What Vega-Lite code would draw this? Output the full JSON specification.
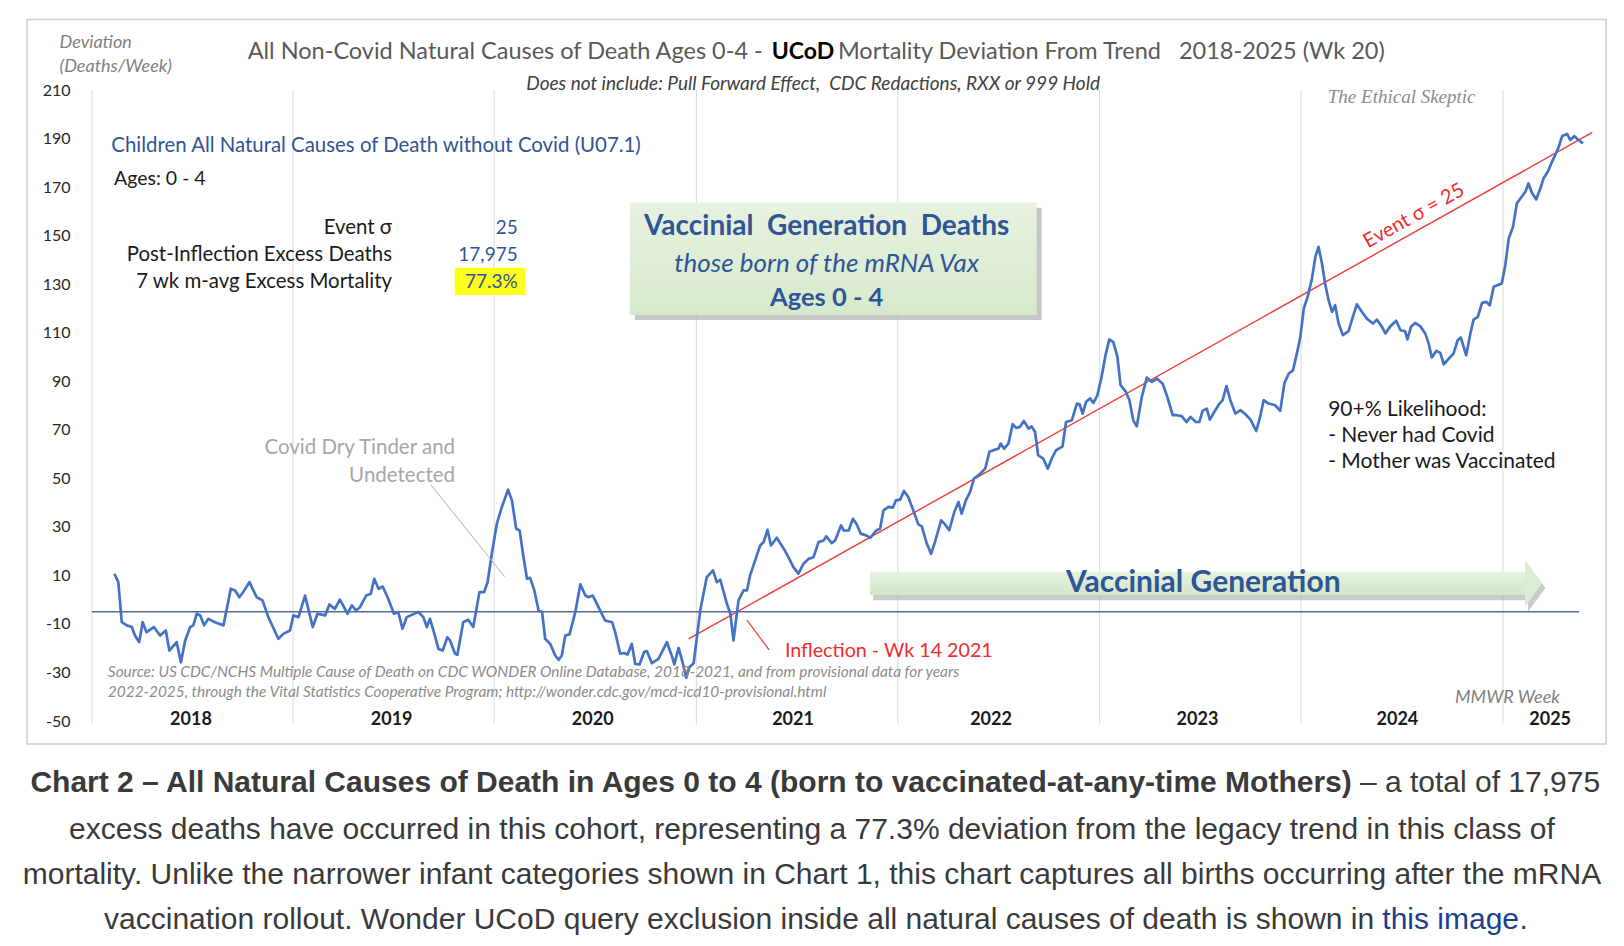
{
  "$schema": "https://vega.github.io/schema/vega-lite/v6.json",
  "description": "All Non-Covid Natural Causes of Death Ages 0-4, UCoD mortality deviation from trend 2018-2025 (Wk 20)",
  "width": 1508,
  "height": 631,
  "autosize": "none",
  "padding": {"left": 92, "top": 90, "right": 24, "bottom": 225},
  "background": "white",
  "config": {"view": {"stroke": null}},
  "datasets": {
    "series": [
      {"w":5.8,"v":10.7},{"w":6.8,"v":7.2},{"w":7.7,"v":-9.3},{"w":9,"v":-10.6},{"w":10.3,"v":-11.3},{"w":11.1,"v":-14.8},{"w":12.2,"v":-17.5},{"w":13.1,"v":-9.3},{"w":14.1,"v":-13.4},{"w":16,"v":-11.3},
      {"w":17.6,"v":-14.8},{"w":19.1,"v":-12.7},{"w":20,"v":-21},{"w":21.9,"v":-17.5},{"w":23,"v":-25.8},{"w":24.1,"v":-16.8},{"w":25.4,"v":-11.3},{"w":26.2,"v":-10.6},{"w":27.1,"v":-5.8},{"w":28,"v":-6.5},
      {"w":29,"v":-10.6},{"w":30.1,"v":-7.9},{"w":31.8,"v":-9.3},{"w":34,"v":-10.6},{"w":35.9,"v":4.5},{"w":37,"v":3.8},{"w":38.1,"v":1},{"w":39.1,"v":3.1},{"w":40.7,"v":7.2},{"w":42.6,"v":1},
      {"w":44.1,"v":-0.3},{"w":45.6,"v":-7.2},{"w":48.2,"v":-16.1},{"w":49.5,"v":-14.1},{"w":51.2,"v":-12.7},{"w":52.1,"v":-6.5},{"w":53.4,"v":-7.2},{"w":55.1,"v":1.7},{"w":57.1,"v":-11.3},{"w":58.3,"v":-5.8},
      {"w":60.3,"v":-6.5},{"w":61.4,"v":-2},{"w":62.8,"v":-3.8},{"w":64.1,"v":0},{"w":66.1,"v":-5.8},{"w":67.2,"v":-2.4},{"w":68.3,"v":-4.5},{"w":69.3,"v":-3.1},{"w":70.9,"v":1.7},{"w":72.1,"v":2.4},
      {"w":73,"v":8.6},{"w":74.1,"v":4.5},{"w":75.2,"v":5.4},{"w":76.6,"v":0.4},{"w":78.1,"v":-5.8},{"w":79.2,"v":-5.1},{"w":80.3,"v":-12},{"w":81.4,"v":-7.2},{"w":84.4,"v":-5.1},{"w":85.7,"v":-7.2},
      {"w":86.6,"v":-11.3},{"w":87.4,"v":-7.9},{"w":88.3,"v":-12.7},{"w":89.6,"v":-20.3},{"w":90.7,"v":-21},{"w":91.9,"v":-15.5},{"w":92.6,"v":-16.8},{"w":93.9,"v":-22.3},{"w":94.5,"v":-22.7},{"w":96,"v":-9.3},
      {"w":97.3,"v":-8.3},{"w":98.6,"v":-11.3},{"w":100.2,"v":3.1},{"w":101.4,"v":3.1},{"w":102.3,"v":7.2},{"w":103.4,"v":18.9},{"w":104.7,"v":31.3},{"w":106,"v":38.2},{"w":107.6,"v":45.3},{"w":108.6,"v":40.9},
      {"w":109.7,"v":29.2},{"w":110.6,"v":28.5},{"w":111.6,"v":17.5},{"w":112.5,"v":8.6},{"w":113.3,"v":9},{"w":114.4,"v":3.8},{"w":115.5,"v":-4.5},{"w":116.4,"v":-5.1},{"w":117.2,"v":-16.1},{"w":118.5,"v":-18.2},
      {"w":119.8,"v":-23},{"w":120.7,"v":-24.8},{"w":121.5,"v":-23},{"w":122.4,"v":-14.8},{"w":123.5,"v":-14.3},{"w":125,"v":-5.1},{"w":126.3,"v":6.3},{"w":127.6,"v":1.7},{"w":128.4,"v":1},{"w":129.5,"v":1.7},
      {"w":131,"v":-3.1},{"w":132.7,"v":-8.6},{"w":134.5,"v":-9.3},{"w":135.3,"v":-13.4},{"w":136.6,"v":-22.3},{"w":137.6,"v":-22},{"w":138.5,"v":-22.6},{"w":139.6,"v":-18.2},{"w":140.5,"v":-26.5},{"w":141.6,"v":-26.7},
      {"w":142.8,"v":-21.6},{"w":143.5,"v":-21.2},{"w":144.8,"v":-26.2},{"w":146.5,"v":-24.4},{"w":148.7,"v":-17.5},{"w":150,"v":-23.4},{"w":150.6,"v":-26.7},{"w":151.7,"v":-19.9},{"w":152.6,"v":-25},{"w":153.7,"v":-32.2},
      {"w":154.5,"v":-27.8},{"w":155.6,"v":-26.2},{"w":157.3,"v":-4.5},{"w":159,"v":9.3},{"w":160.6,"v":12},{"w":161.6,"v":7.2},{"w":162.5,"v":8.2},{"w":164.2,"v":-1.7},{"w":165.1,"v":-5.8},{"w":165.9,"v":-16.8},
      {"w":167.2,"v":-0.3},{"w":168.5,"v":3.8},{"w":169.4,"v":3.8},{"w":170.2,"v":10},{"w":171.5,"v":16.2},{"w":172.8,"v":22.3},{"w":173.7,"v":23.7},{"w":174.7,"v":28.8},{"w":175.6,"v":22.3},{"w":177.1,"v":25.5},
      {"w":178.9,"v":21},{"w":180.1,"v":17.5},{"w":181.4,"v":13.4},{"w":182.7,"v":10.7},{"w":184,"v":14.8},{"w":185.3,"v":16.8},{"w":186.6,"v":17.5},{"w":187.9,"v":23.7},{"w":189.2,"v":24.4},{"w":189.9,"v":26.1},
      {"w":191.3,"v":23.3},{"w":192.2,"v":24.4},{"w":193.7,"v":30.6},{"w":194.4,"v":28.5},{"w":195.7,"v":28.5},{"w":196.8,"v":33.3},{"w":197.8,"v":31},{"w":198.8,"v":27.2},{"w":200.2,"v":26.5},{"w":201.3,"v":25.5},
      {"w":202.8,"v":28.5},{"w":203.8,"v":29.2},{"w":204.7,"v":36.8},{"w":206,"v":38.2},{"w":207.1,"v":37.9},{"w":207.9,"v":40.9},{"w":209,"v":41.2},{"w":210,"v":44.8},{"w":211.1,"v":42.3},{"w":212.4,"v":36.8},
      {"w":213.7,"v":31},{"w":214.6,"v":30.2},{"w":215.9,"v":23.1},{"w":217,"v":18.9},{"w":218,"v":23.7},{"w":219.6,"v":32.7},{"w":220.6,"v":31},{"w":221.7,"v":28.6},{"w":223,"v":36.1},{"w":224.1,"v":40.2},
      {"w":224.9,"v":35.4},{"w":226,"v":40.9},{"w":227.1,"v":44.4},{"w":228.1,"v":49.9},{"w":229.7,"v":51.9},{"w":231,"v":54},{"w":232.1,"v":60.9},{"w":233.5,"v":61.8},{"w":234.4,"v":62.2},{"w":235,"v":64.3},
      {"w":235.9,"v":62.2},{"w":237,"v":64.3},{"w":238.1,"v":72.3},{"w":239,"v":70.8},{"w":240,"v":71.2},{"w":241,"v":73.6},{"w":242.2,"v":70.5},{"w":243,"v":71.4},{"w":243.9,"v":69.1},{"w":244.7,"v":59.5},
      {"w":246,"v":58.1},{"w":247.2,"v":54},{"w":248.2,"v":58.1},{"w":249.3,"v":61.5},{"w":251,"v":63.2},{"w":251.9,"v":73.2},{"w":253.4,"v":73.9},{"w":254.7,"v":80.8},{"w":255.4,"v":80.5},{"w":256.2,"v":76.7},
      {"w":257.1,"v":81.5},{"w":258.1,"v":82.9},{"w":259,"v":81.1},{"w":260,"v":84.2},{"w":261.1,"v":91.8},{"w":262.2,"v":101.4},{"w":263.1,"v":107.2},{"w":264.1,"v":106.2},{"w":265.2,"v":100},{"w":266,"v":88.4},
      {"w":267.4,"v":85.6},{"w":268.3,"v":82.2},{"w":269.3,"v":73.9},{"w":270.2,"v":71.4},{"w":271.5,"v":83.5},{"w":272.8,"v":91.5},{"w":274.1,"v":89.7},{"w":275.4,"v":91.1},{"w":276.9,"v":89},{"w":278.1,"v":83.5},
      {"w":279.5,"v":76},{"w":280.5,"v":76},{"w":281.8,"v":75.6},{"w":283.1,"v":73.2},{"w":284.1,"v":75.3},{"w":285.5,"v":73.2},{"w":286.4,"v":73.2},{"w":287.2,"v":77.8},{"w":288.3,"v":78.7},{"w":289.1,"v":74.2},
      {"w":290,"v":76.7},{"w":291.6,"v":80.8},{"w":292.4,"v":82.2},{"w":293.4,"v":88},{"w":294.4,"v":82.2},{"w":295.7,"v":76.7},{"w":297,"v":78.1},{"w":298.3,"v":76.4},{"w":299.6,"v":74.2},{"w":301.1,"v":69.5},
      {"w":302.1,"v":75.3},{"w":303,"v":82.2},{"w":304.3,"v":80.8},{"w":306,"v":80.1},{"w":307.3,"v":77.8},{"w":308.4,"v":89.3},{"w":309.5,"v":93.2},{"w":310.6,"v":94.5},{"w":311.8,"v":102.8},{"w":312.5,"v":108.3},
      {"w":313.4,"v":120},{"w":314.4,"v":124.8},{"w":315.5,"v":132.3},{"w":316.4,"v":141.3},{"w":317.2,"v":145.4},{"w":318.1,"v":138.5},{"w":318.9,"v":130.3},{"w":319.8,"v":123.4},{"w":320.7,"v":118.6},{"w":321.5,"v":121.3},
      {"w":322.4,"v":113.8},{"w":323.5,"v":109},{"w":325,"v":110.7},{"w":325.8,"v":115.1},{"w":327.1,"v":121.7},{"w":328.4,"v":118.6},{"w":329.7,"v":115.8},{"w":331.3,"v":113.8},{"w":332.3,"v":115.4},{"w":333.6,"v":112.4},
      {"w":334.5,"v":109.7},{"w":335.8,"v":112.7},{"w":337.3,"v":114.9},{"w":338.4,"v":111},{"w":339.6,"v":110.6},{"w":340.2,"v":107.2},{"w":341.1,"v":112.4},{"w":342.2,"v":114},{"w":343.5,"v":112.7},{"w":344.8,"v":109.7},
      {"w":345.7,"v":105.5},{"w":346.5,"v":99.8},{"w":347.7,"v":102.5},{"w":348.7,"v":101.7},{"w":349.6,"v":97},{"w":350.9,"v":99.3},{"w":352.1,"v":101.4},{"w":353.2,"v":106.9},{"w":354,"v":108},{"w":355.4,"v":100.7},
      {"w":356.5,"v":109.9},{"w":357.3,"v":115.4},{"w":358.4,"v":116.5},{"w":359.5,"v":122.3},{"w":360.6,"v":122.7},{"w":361.5,"v":121.3},{"w":362.5,"v":128.9},{"w":363.5,"v":129.6},{"w":364.6,"v":130.3},{"w":365.5,"v":137.8},
      {"w":366.4,"v":148.8},{"w":367.5,"v":153.6},{"w":368.5,"v":163.3},{"w":369.6,"v":165.7},{"w":370.7,"v":168.1},{"w":371.5,"v":171.5},{"w":372.4,"v":167.7},{"w":373.5,"v":164.9},{"w":374.6,"v":169.5},{"w":375.4,"v":173.6},
      {"w":376.5,"v":176.3},{"w":377.6,"v":180.4},{"w":378.4,"v":183.2},{"w":379.3,"v":186.4},{"w":380.2,"v":191},{"w":381.5,"v":191.9},{"w":382.3,"v":189.4},{"w":383.4,"v":191},{"w":384.2,"v":189.7},{"w":385.6,"v":188}
    ],
    "trend": [{"w": 154.3, "v": -16.2}, {"w": 388, "v": 192.5}],
    "baseline": [{"w": 0, "w2": 384.6, "v": -5}],
    "yearStarts": [
      {"year": 2018, "w": 0, "v": 210, "v2": -51}, {"year": 2019, "w": 52, "v": 210, "v2": -51}, {"year": 2020, "w": 104, "v": 210, "v2": -51}, {"year": 2021, "w": 156.3, "v": 210, "v2": -51},
      {"year": 2022, "w": 208.4, "v": 210, "v2": -51}, {"year": 2023, "w": 260.6, "v": 210, "v2": -51}, {"year": 2024, "w": 312.7, "v": 210, "v2": -51}, {"year": 2025, "w": 364.9, "v": 210, "v2": -51}
    ],
    "yearLabels": [
      {"label": "2018", "w": 25.6, "v": -49.6}, {"label": "2019", "w": 77.5, "v": -49.6}, {"label": "2020", "w": 129.5, "v": -49.6}, {"label": "2021", "w": 181.3, "v": -49.6},
      {"label": "2022", "w": 232.5, "v": -49.6}, {"label": "2023", "w": 285.9, "v": -49.6}, {"label": "2024", "w": 337.6, "v": -49.6}, {"label": "2025", "w": 377.1, "v": -49.6}
    ],
    "frame": [{"w": -16.8, "w2": 391.6, "v": 239.1, "v2": -59.5}],
    "boxShadow": [{"w": 140.4, "w2": 245.6, "v": 161.5, "v2": 115.2}],
    "box": [{"w": 139.1, "w2": 244.3, "v": 163.6, "v2": 117.3}],
    "highlight": [{"w": 93.8, "w2": 112.1, "v": 136.8, "v2": 125.5}],
    "arrowShadowBody": [{"w": 202.0, "w2": 371.4, "v": 9.4, "v2": -0.2}],
    "arrowShadowHead": [{"w": 371.4, "v": 14.2, "v2": -5.0}, {"w": 375.9, "v": 4.8, "v2": 4.8}],
    "arrowBody": [{"w": 201.2, "w2": 370.6, "v": 11.5, "v2": 1.9}],
    "arrowHead": [{"w": 370.6, "v": 16.3, "v2": -2.9}, {"w": 375.1, "v": 6.9, "v2": 6.9}],
    "leaders": [
      {"kind": "tinder", "w": 87.7, "v": 47.2, "w2": 106.7, "v2": 9.5},
      {"kind": "inflection", "w": 169.4, "v": -8.4, "w2": 175.1, "v2": -20.7}
    ]
  },
  "encoding": {
    "x": {"field": "w", "type": "quantitative", "scale": {"domain": [0, 390], "nice": false, "zero": false}, "axis": null},
    "y": {
      "field": "v", "type": "quantitative",
      "scale": {"domain": [-50, 210], "nice": false, "zero": false},
      "axis": {
        "title": null, "values": [-50, -30, -10, 10, 30, 50, 70, 90, 110, 130, 150, 170, 190, 210],
        "labelExpr": "'' + datum.value",
        "domain": false, "ticks": false, "grid": false, "labelPadding": 22,
        "labelFont": "Lato", "labelFontSize": 16, "labelColor": "#262626"
      }
    }
  },
  "layer": [
    {"data": {"name": "frame"}, "mark": {"type": "rect", "fillOpacity": 0, "stroke": "#cfcfcf", "strokeWidth": 1.5}, "encoding": {"x2": {"field": "w2"}, "y2": {"field": "v2"}}},
    {"data": {"name": "yearStarts"}, "mark": {"type": "rule", "color": "#dadada", "strokeWidth": 1}, "encoding": {"y2": {"field": "v2"}}},
    {"data": {"name": "boxShadow"}, "mark": {"type": "rect", "color": "#b4b4b4", "opacity": 0.75}, "encoding": {"x2": {"field": "w2"}, "y2": {"field": "v2"}}},
    {"data": {"name": "box"}, "mark": {"type": "rect", "fill": {"gradient": "linear", "x1": 0, "y1": 0, "x2": 0, "y2": 1, "stops": [{"offset": 0, "color": "#e7f2e0"}, {"offset": 1, "color": "#d7e9cc"}]}}, "encoding": {"x2": {"field": "w2"}, "y2": {"field": "v2"}}},
    {"data": {"name": "highlight"}, "mark": {"type": "rect", "color": "#ffff1a"}, "encoding": {"x2": {"field": "w2"}, "y2": {"field": "v2"}}},
    {"data": {"name": "arrowShadowBody"}, "mark": {"type": "rect", "color": "#a8a8a8", "opacity": 0.6}, "encoding": {"x2": {"field": "w2"}, "y2": {"field": "v2"}}},
    {"data": {"name": "arrowShadowHead"}, "mark": {"type": "area", "color": "#a8a8a8", "opacity": 0.6}, "encoding": {"y2": {"field": "v2"}}},
    {"data": {"name": "arrowBody"}, "mark": {"type": "rect", "fill": {"gradient": "linear", "x1": 0, "y1": 0, "x2": 0, "y2": 1, "stops": [{"offset": 0, "color": "#e6f1df"}, {"offset": 1, "color": "#d3e7c8"}]}}, "encoding": {"x2": {"field": "w2"}, "y2": {"field": "v2"}}},
    {"data": {"name": "arrowHead"}, "mark": {"type": "area", "color": "#dcecd4"}, "encoding": {"y2": {"field": "v2"}}},
    {"data": {"name": "baseline"}, "mark": {"type": "rule", "color": "#4f6d9c", "strokeWidth": 1.6}, "encoding": {"x2": {"field": "w2"}}},
    {"data": {"name": "trend"}, "mark": {"type": "line", "color": "#ee3a3a", "strokeWidth": 1.4}, "encoding": {}},
    {"data": {"name": "series"}, "mark": {"type": "line", "color": "#4472c4", "strokeWidth": 2.7, "strokeJoin": "round"}, "encoding": {}},
    {"data": {"name": "leaders"}, "transform": [{"filter": "datum.kind == 'tinder'"}], "mark": {"type": "rule", "color": "#b0b0b0", "strokeWidth": 1}, "encoding": {"x2": {"field": "w2"}, "y2": {"field": "v2"}}},
    {"data": {"name": "leaders"}, "transform": [{"filter": "datum.kind == 'inflection'"}], "mark": {"type": "rule", "color": "#ee3a3a", "strokeWidth": 1.2}, "encoding": {"x2": {"field": "w2"}, "y2": {"field": "v2"}}},
    {"data": {"name": "yearLabels"}, "mark": {"type": "text", "font": "Lato", "fontSize": 18, "fontWeight": "bold", "color": "#1a1a1a", "baseline": "middle"}, "encoding": {"text": {"field": "label"}}},
    {"data": {"values": [{"w": -8.4, "v": 229.2, "label": "Deviation"}, {"w": -8.4, "v": 219.6, "label": "(Deaths/Week)"}]}, "mark": {"type": "text", "font": "Lato", "fontSize": 18, "fontStyle": "italic", "color": "#7f7f7f", "align": "left", "baseline": "middle"}, "encoding": {"text": {"field": "label"}}},
    {"data": {"values": [{"w": 173.5, "v": 225.8, "label": "All Non-Covid Natural Causes of Death Ages 0-4 -"}]}, "mark": {"type": "text", "font": "Lato", "fontSize": 23.5, "color": "#595959", "align": "right", "baseline": "middle"}, "encoding": {"text": {"field": "label"}}},
    {"data": {"values": [{"w": 175.8, "v": 225.8, "label": "UCoD"}]}, "mark": {"type": "text", "font": "Lato", "fontSize": 23, "fontWeight": "bold", "color": "#000000", "align": "left", "baseline": "middle"}, "encoding": {"text": {"field": "label"}}},
    {"data": {"values": [{"w": 192.9, "v": 225.8, "label": "Mortality Deviation From Trend \u00a0 2018-2025 (Wk 20)"}]}, "mark": {"type": "text", "font": "Lato", "fontSize": 23.5, "color": "#595959", "align": "left", "baseline": "middle"}, "encoding": {"text": {"field": "label"}}},
    {"data": {"values": [{"w": 186.5, "v": 212.5, "label": "Does not include: Pull Forward Effect, \u00a0CDC Redactions, RXX or 999 Hold"}]}, "mark": {"type": "text", "font": "Lato", "fontSize": 19, "fontStyle": "italic", "color": "#404040", "align": "center", "baseline": "middle"}, "encoding": {"text": {"field": "label"}}},
    {"data": {"values": [{"w": 338.7, "v": 207.2, "label": "The Ethical Skeptic"}]}, "mark": {"type": "text", "font": "Liberation Serif", "fontSize": 19, "fontStyle": "italic", "color": "#8c8c8c", "align": "center", "baseline": "middle"}, "encoding": {"text": {"field": "label"}}},
    {"data": {"values": [{"w": 5.0, "v": 187.0, "label": "Children All Natural Causes of Death without Covid (U07.1)"}]}, "mark": {"type": "text", "font": "Lato", "fontSize": 20.4, "color": "#2f5597", "align": "left", "baseline": "middle"}, "encoding": {"text": {"field": "label"}}},
    {"data": {"values": [{"w": 5.7, "v": 173.2, "label": "Ages: 0 - 4"}]}, "mark": {"type": "text", "font": "Lato", "fontSize": 19.5, "color": "#1a1a1a", "align": "left", "baseline": "middle"}, "encoding": {"text": {"field": "label"}}},
    {"data": {"values": [{"w": 77.6, "v": 153.3, "label": "Event σ"}, {"w": 77.6, "v": 142.0, "label": "Post-Inflection Excess Deaths"}, {"w": 77.6, "v": 130.8, "label": "7 wk m-avg Excess Mortality"}]}, "mark": {"type": "text", "font": "Lato", "fontSize": 20.4, "color": "#1a1a1a", "align": "right", "baseline": "middle"}, "encoding": {"text": {"field": "label"}}},
    {"data": {"values": [{"w": 110.1, "v": 153.3, "label": "25"}, {"w": 110.1, "v": 142.0, "label": "17,975"}, {"w": 110.1, "v": 130.8, "label": "77.3%"}]}, "mark": {"type": "text", "font": "Lato", "fontSize": 19, "color": "#2f5597", "align": "right", "baseline": "middle"}, "encoding": {"text": {"field": "label"}}},
    {"data": {"values": [{"w": 93.9, "v": 62.5, "label": "Covid Dry Tinder and"}, {"w": 93.9, "v": 50.9, "label": "Undetected"}]}, "mark": {"type": "text", "font": "Lato", "fontSize": 20.5, "color": "#a6a6a6", "align": "right", "baseline": "middle"}, "encoding": {"text": {"field": "label"}}},
    {"data": {"values": [{"w": 179.2, "v": -21.0, "label": "Inflection - Wk 14 2021"}]}, "mark": {"type": "text", "font": "Lato", "fontSize": 19.7, "color": "#ee2c2c", "align": "left", "baseline": "middle"}, "encoding": {"text": {"field": "label"}}},
    {"data": {"values": [{"w": 4.1, "v": -29.7, "label": "Source: US CDC/NCHS Multiple Cause of Death on CDC WONDER Online Database, 2018-2021, and from provisional data for years"}, {"w": 4.1, "v": -37.9, "label": "2022-2025, through the Vital Statistics Cooperative Program; http://wonder.cdc.gov/mcd-icd10-provisional.html"}]}, "mark": {"type": "text", "font": "Lato", "fontSize": 15.4, "fontStyle": "italic", "color": "#8c8c8c", "align": "left", "baseline": "middle"}, "encoding": {"text": {"field": "label"}}},
    {"data": {"values": [{"w": 341.9, "v": 158.1, "label": "Event σ = 25"}]}, "mark": {"type": "text", "font": "Lato", "fontSize": 20, "color": "#ee2c2c", "align": "center", "baseline": "middle", "angle": 330.8}, "encoding": {"text": {"field": "label"}}},
    {"data": {"values": [{"w": 319.7, "v": 78.1, "label": "90+% Likelihood:"}, {"w": 319.7, "v": 67.4, "label": "- Never had Covid"}, {"w": 319.7, "v": 56.8, "label": "- Mother was Vaccinated"}]}, "mark": {"type": "text", "font": "Lato", "fontSize": 21, "color": "#1a1a1a", "align": "left", "baseline": "middle"}, "encoding": {"text": {"field": "label"}}},
    {"data": {"values": [{"w": 379.6, "v": -40.4, "label": "MMWR Week"}]}, "mark": {"type": "text", "font": "Lato", "fontSize": 18, "fontStyle": "italic", "color": "#7f7f7f", "align": "right", "baseline": "middle"}, "encoding": {"text": {"field": "label"}}},
    {"data": {"values": [{"w": 190.0, "v": 153.4, "label": "Vaccinial \u00a0Generation \u00a0Deaths"}]}, "mark": {"type": "text", "font": "Lato", "fontSize": 28, "fontWeight": "bold", "color": "#2f5597", "align": "center", "baseline": "middle"}, "encoding": {"text": {"field": "label"}}},
    {"data": {"values": [{"w": 190.0, "v": 138.3, "label": "those born of the mRNA Vax"}]}, "mark": {"type": "text", "font": "Lato", "fontSize": 26, "fontStyle": "italic", "color": "#2f5597", "align": "center", "baseline": "middle"}, "encoding": {"text": {"field": "label"}}},
    {"data": {"values": [{"w": 190.0, "v": 124.3, "label": "Ages 0 - 4"}]}, "mark": {"type": "text", "font": "Lato", "fontSize": 25.5, "fontWeight": "bold", "color": "#2f5597", "align": "center", "baseline": "middle"}, "encoding": {"text": {"field": "label"}}},
    {"data": {"values": [{"w": 287.4, "v": 6.9, "label": "Vaccinial Generation"}]}, "mark": {"type": "text", "font": "Lato", "fontSize": 30, "fontWeight": "bold", "color": "#2f5597", "align": "center", "baseline": "middle"}, "encoding": {"text": {"field": "label"}}},
    {"data": {"values": [{"w": 325.8, "v": -75.5, "label": "Chart 2 – All Natural Causes of Death in Ages 0 to 4 (born to vaccinated-at-any-time Mothers)"}]}, "mark": {"type": "text", "font": "Liberation Sans", "fontSize": 30, "fontWeight": "bold", "color": "#3a3a3a", "align": "right", "baseline": "middle"}, "encoding": {"text": {"field": "label"}}},
    {"data": {"values": [{"w": 327.9, "v": -75.5, "label": "– a total of 17,975"}, {"w": 369.2, "v": -131.9, "label": "."}]}, "mark": {"type": "text", "font": "Liberation Sans", "fontSize": 30, "color": "#3a3a3a", "align": "left", "baseline": "middle"}, "encoding": {"text": {"field": "label"}}},
    {"data": {"values": [{"w": 186.2, "v": -94.9, "label": "excess deaths have occurred in this cohort, representing a 77.3% deviation from the legacy trend in this class of"}, {"w": 186.2, "v": -113.4, "label": "mortality. Unlike the narrower infant categories shown in Chart 1, this chart captures all births occurring after the mRNA"}]}, "mark": {"type": "text", "font": "Liberation Sans", "fontSize": 30, "color": "#3a3a3a", "align": "center", "baseline": "middle"}, "encoding": {"text": {"field": "label"}}},
    {"data": {"values": [{"w": 331.6, "v": -131.9, "label": "vaccination rollout. Wonder UCoD query exclusion inside all natural causes of death is shown in"}]}, "mark": {"type": "text", "font": "Liberation Sans", "fontSize": 30, "color": "#3a3a3a", "align": "right", "baseline": "middle"}, "encoding": {"text": {"field": "label"}}},
    {"data": {"values": [{"w": 333.7, "v": -131.9, "label": "this image"}]}, "mark": {"type": "text", "font": "Liberation Sans", "fontSize": 30, "color": "#1b3f8b", "align": "left", "baseline": "middle"}, "encoding": {"text": {"field": "label"}}}
  ]
}
